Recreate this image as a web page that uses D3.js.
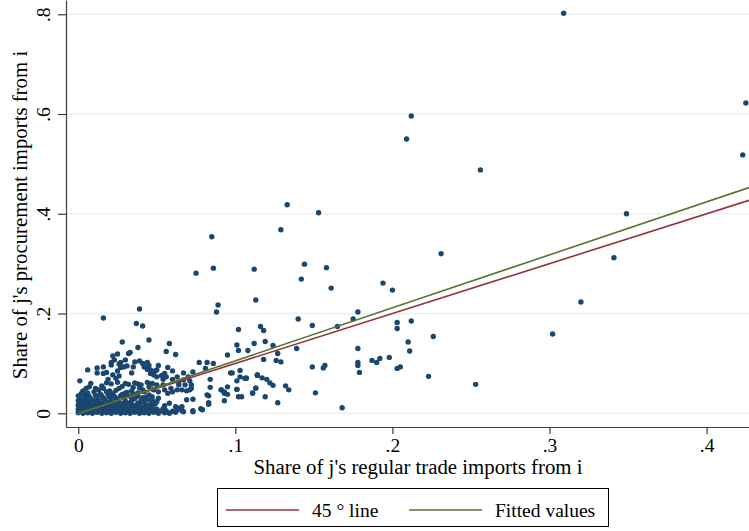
<!DOCTYPE html>
<html>
<head>
<meta charset="utf-8">
<script src="https://cdn.jsdelivr.net/npm/d3@7"></script>
<style>
    body { margin: 0; background: #fff; }
    svg { display: block; font-family: "Liberation Serif", "Times New Roman", serif; }
    .grid line { stroke: #eaf2f3; stroke-width: 1.4; }
    .axis path, .axis line { stroke: #3c3c3c; stroke-width: 1.2; }
    .axis text { font-size: 19.5px; fill: #000; font-family: "Liberation Serif", serif; }
</style>
</head>
<body>
<div id="chart"></div>
<script>
// share of j's regular trade imports from i (x) vs share of procurement imports from i (y)
const outliers = [
    [0.309, 0.802], [0.425, 0.622], [0.212, 0.596], [0.209, 0.550], [0.256, 0.488],
    [0.423, 0.518], [0.133, 0.418], [0.153, 0.402], [0.349, 0.400], [0.341, 0.312],
    [0.231, 0.320], [0.129, 0.368], [0.085, 0.354], [0.320, 0.223], [0.302, 0.159],
    [0.253, 0.058]
]

const midPoints = [
    [0.144, 0.299], [0.158, 0.292], [0.112, 0.289], [0.142, 0.269], [0.161, 0.251],
    [0.194, 0.261], [0.200, 0.247], [0.113, 0.227], [0.178, 0.203], [0.175, 0.189],
    [0.140, 0.189], [0.203, 0.182], [0.212, 0.185], [0.203, 0.170], [0.116, 0.174],
    [0.118, 0.166], [0.149, 0.176], [0.165, 0.174], [0.226, 0.154], [0.112, 0.140],
    [0.119, 0.144], [0.124, 0.136], [0.210, 0.143], [0.211, 0.125], [0.139, 0.130],
    [0.178, 0.130], [0.127, 0.120], [0.118, 0.108], [0.126, 0.106], [0.129, 0.103],
    [0.178, 0.102], [0.178, 0.096], [0.187, 0.106], [0.190, 0.102], [0.192, 0.110],
    [0.198, 0.112], [0.149, 0.093], [0.157, 0.096], [0.156, 0.091], [0.203, 0.090],
    [0.205, 0.093], [0.179, 0.082], [0.114, 0.076], [0.117, 0.071], [0.120, 0.068],
    [0.122, 0.061], [0.124, 0.056], [0.223, 0.074], [0.113, 0.051], [0.132, 0.055],
    [0.134, 0.047], [0.111, 0.041], [0.151, 0.041], [0.119, 0.033], [0.127, 0.021],
    [0.168, 0.011], [0.075, 0.281], [0.086, 0.291], [0.089, 0.217], [0.088, 0.203],
    [0.039, 0.209], [0.016, 0.191], [0.037, 0.180], [0.041, 0.175], [0.102, 0.168],
    [0.045, 0.147], [0.028, 0.143], [0.058, 0.140], [0.056, 0.124], [0.038, 0.132],
    [0.033, 0.122], [0.102, 0.126], [0.108, 0.126], [0.101, 0.137], [0.095, 0.117],
    [0.025, 0.119], [0.032, 0.120], [0.062, 0.118], [0.022, 0.115], [0.023, 0.107]
]

const lowPoints = [
    [0.021, 0.102], [0.027, 0.102], [0.030, 0.107], [0.029, 0.093], [0.035, 0.093],
    [0.039, 0.105], [0.041, 0.100], [0.044, 0.102], [0.045, 0.096], [0.051, 0.096],
    [0.042, 0.093], [0.049, 0.085], [0.060, 0.085], [0.067, 0.081], [0.073, 0.083],
    [0.077, 0.102], [0.081, 0.090], [0.082, 0.102], [0.086, 0.100], [0.084, 0.068],
    [0.084, 0.052], [0.091, 0.047], [0.093, 0.043], [0.095, 0.038], [0.101, 0.065],
    [0.101, 0.048], [0.103, 0.086], [0.107, 0.071], [0.114, 0.077], [0.083, 0.035],
    [0.083, 0.018], [0.078, 0.009], [0.073, 0.005], [0.066, 0.005], [0.001, 0.065],
    [0.006, 0.087], [0.012, 0.091], [0.016, 0.093], [0.012, 0.081], [0.018, 0.082],
    [0.016, 0.080], [0.021, 0.097], [0.026, 0.099], [0.027, 0.092], [0.025, 0.085],
    [0.026, 0.075], [0.036, 0.103], [0.044, 0.088], [0.046, 0.080], [0.048, 0.077],
    [0.031, 0.095], [0.034, 0.081], [0.022, 0.077], [0.024, 0.070], [0.019, 0.068],
    [0.018, 0.061], [0.021, 0.059], [0.025, 0.062], [0.030, 0.060], [0.032, 0.058],
    [0.036, 0.061], [0.038, 0.059], [0.040, 0.057], [0.044, 0.062], [0.047, 0.059],
    [0.008, 0.060], [0.007, 0.053], [0.005, 0.050], [0.013, 0.047], [0.016, 0.050],
    [0.010, 0.043], [0.038, 0.041], [0.042, 0.043], [0.045, 0.037], [0.048, 0.047],
    [0.020, 0.045], [0.026, 0.050], [0.031, 0.042], [0.035, 0.052], [0.028, 0.038],
    [0.034, 0.045], [0.057, 0.092], [0.050, 0.087], [0.046, 0.087], [0.055, 0.080],
    [0.056, 0.073], [0.053, 0.076], [0.050, 0.073], [0.060, 0.068], [0.063, 0.073],
    [0.067, 0.067], [0.070, 0.073], [0.071, 0.065], [0.064, 0.057], [0.064, 0.062],
    [0.068, 0.057], [0.069, 0.045], [0.071, 0.047], [0.072, 0.050], [0.072, 0.057],
    [0.051, 0.030], [0.050, 0.023], [0.047, 0.013], [0.050, 0.008], [0.055, 0.015],
    [0.058, 0.020], [0.062, 0.013], [0.064, 0.010], [0.066, 0.013], [0.069, 0.027],
    [0.073, 0.028], [0.079, 0.007], [0.073, 0.003], [0.067, 0.003], [0.063, 0.007],
    [0.082, 0.037], [0.083, 0.021], [0.091, 0.047], [0.093, 0.040], [0.095, 0.053],
    [0.093, 0.025], [0.101, 0.048], [0.102, 0.033], [0.104, 0.033], [0.107, 0.070],
    [0.111, 0.040], [0.113, 0.050], [0.114, 0.077], [0.097, 0.081], [0.098, 0.081],
    [0.103, 0.073], [0.106, 0.070], [0.054, 0.068], [0.054, 0.057], [0.055, 0.047],
    [0.057, 0.040], [0.059, 0.050], [0.050, 0.057], [0.047, 0.060], [0.048, 0.048],
    [0.051, 0.043], [0.063, 0.047], [0.066, 0.047], [0.060, 0.043]
]

const denseCluster = [
    [0.000, 0.001], [0.003, 0.000], [0.006, 0.001], [0.009, 0.000], [0.012, 0.002],
    [0.015, 0.000], [0.018, 0.001], [0.021, 0.000], [0.024, 0.002], [0.027, 0.000],
    [0.030, 0.001], [0.033, 0.000], [0.036, 0.002], [0.039, 0.000], [0.042, 0.001],
    [0.045, 0.000], [0.048, 0.002], [0.051, 0.000], [0.055, 0.001], [0.058, 0.000],
    [0.062, 0.002], [0.001, 0.004], [0.004, 0.005], [0.007, 0.004], [0.011, 0.006],
    [0.014, 0.004], [0.017, 0.005], [0.020, 0.004], [0.023, 0.006], [0.026, 0.004],
    [0.029, 0.005], [0.032, 0.004], [0.035, 0.006], [0.038, 0.004], [0.041, 0.005],
    [0.044, 0.004], [0.047, 0.006], [0.052, 0.004], [0.056, 0.005], [0.060, 0.004],
    [0.000, 0.008], [0.003, 0.009], [0.006, 0.008], [0.009, 0.010], [0.013, 0.008],
    [0.016, 0.009], [0.019, 0.008], [0.022, 0.010], [0.025, 0.008], [0.028, 0.009],
    [0.031, 0.008], [0.034, 0.010], [0.037, 0.008], [0.040, 0.009], [0.043, 0.008],
    [0.046, 0.010], [0.049, 0.008], [0.054, 0.009], [0.001, 0.012], [0.004, 0.013],
    [0.008, 0.012], [0.011, 0.014], [0.014, 0.012], [0.018, 0.013], [0.021, 0.012],
    [0.024, 0.014], [0.027, 0.012], [0.030, 0.013], [0.034, 0.012], [0.037, 0.014],
    [0.041, 0.012], [0.044, 0.013], [0.000, 0.016], [0.003, 0.017], [0.006, 0.016],
    [0.010, 0.018], [0.013, 0.016], [0.016, 0.017], [0.020, 0.016], [0.023, 0.018],
    [0.027, 0.016], [0.031, 0.017], [0.035, 0.016], [0.039, 0.018], [0.043, 0.016],
    [0.046, 0.018], [0.001, 0.020], [0.004, 0.021], [0.007, 0.020], [0.011, 0.022],
    [0.015, 0.020], [0.019, 0.021], [0.022, 0.020], [0.026, 0.022], [0.029, 0.020],
    [0.033, 0.021], [0.038, 0.020], [0.042, 0.022], [0.000, 0.025], [0.003, 0.026],
    [0.006, 0.024], [0.009, 0.026], [0.013, 0.025], [0.017, 0.027], [0.021, 0.025],
    [0.025, 0.026], [0.030, 0.024], [0.034, 0.026], [0.040, 0.025], [0.044, 0.027],
    [0.001, 0.030], [0.005, 0.031], [0.008, 0.029], [0.012, 0.031], [0.016, 0.030],
    [0.020, 0.032], [0.024, 0.030], [0.029, 0.031], [0.036, 0.029], [0.041, 0.031],
    [0.000, 0.035], [0.004, 0.036], [0.007, 0.034], [0.011, 0.036], [0.015, 0.035],
    [0.019, 0.037], [0.027, 0.035], [0.033, 0.034], [0.002, 0.040], [0.006, 0.041],
    [0.014, 0.039], [0.022, 0.040], [0.030, 0.041], [0.023, 0.034], [0.031, 0.036],
    [0.038, 0.034], [0.043, 0.032], [0.047, 0.027], [0.049, 0.019], [0.047, 0.033],
    [0.018, 0.043], [0.024, 0.046], [0.035, 0.039], [0.041, 0.047], [0.003, 0.045],
    [0.011, 0.050], [0.015, 0.055], [0.028, 0.054], [0.039, 0.051], [0.045, 0.053]
]

// straight lines: 45 degree line and OLS fit
const xExtent = [0, 0.427]
const fitIntercept = -0.001
const fitSlope = 1.062

const xTicks = [0, 0.1, 0.2, 0.3, 0.4]
const yTicks = [0, 0.2, 0.4, 0.6, 0.8]

const width = 749, height = 531
const plot = { left: 66, right: 749, top: 0, bottom: 427 }

const x = d3.scaleLinear().domain([-0.0078, 0.427]).range([plot.left, plot.right])
const y = d3.scaleLinear().domain([-0.0275, 0.8286]).range([plot.bottom, plot.top])

const svg = d3.select('#chart').append('svg')
    .attr('width', width)
    .attr('height', height)

svg.append('rect').attr('width', width).attr('height', height).attr('fill', '#fff')

svg.append('g').attr('class', 'grid')
    .selectAll('line')
    .data(yTicks)
    .join('line')
    .attr('x1', plot.left)
    .attr('x2', plot.right)
    .attr('y1', d => y(d))
    .attr('y2', d => y(d))

const fmt = d => d === 0 ? '0' : d3.format('.1f')(d).replace(/^0/, '')

const allPoints = denseCluster.concat(lowPoints, midPoints, outliers)

svg.append('g').attr('class', 'points')
    .selectAll('circle')
    .data(allPoints)
    .join('circle')
    .attr('cx', d => x(d[0]))
    .attr('cy', d => y(d[1]))
    .attr('r', 2.7)
    .attr('fill', '#1a476f')

const line = d3.line().x(d => x(d[0])).y(d => y(d[1]))

svg.append('path')
    .attr('d', line(xExtent.map(v => [v, v])))
    .attr('stroke', '#90353b')
    .attr('stroke-width', 1.6)
    .attr('fill', 'none')

svg.append('path')
    .attr('d', line(xExtent.map(v => [v, fitIntercept + fitSlope * v])))
    .attr('stroke', '#55752f')
    .attr('stroke-width', 1.6)
    .attr('fill', 'none')

const xAxis = svg.append('g').attr('class', 'axis')
    .attr('transform', `translate(0,${plot.bottom})`)
    .call(d3.axisBottom(x).tickValues(xTicks).tickFormat(fmt).tickSize(7).tickSizeOuter(0).tickPadding(4))

const yAxis = svg.append('g').attr('class', 'axis')
    .attr('transform', `translate(${plot.left},0)`)
    .call(d3.axisLeft(y).tickValues(yTicks).tickFormat(fmt).tickSize(8).tickSizeOuter(0))

yAxis.selectAll('.tick text')
    .attr('x', 0)
    .attr('dy', null)
    .attr('text-anchor', 'middle')
    .attr('transform', 'translate(-16,0) rotate(-90)')

svg.append('text')
    .attr('x', 418)
    .attr('y', 474)
    .attr('text-anchor', 'middle')
    .style('font-size', '20.8px')
    .text("Share of j's regular trade imports from i")

svg.append('text')
    .attr('transform', 'translate(27,215) rotate(-90)')
    .attr('text-anchor', 'middle')
    .style('font-size', '20.8px')
    .text("Share of j's procurement imports from i")

// legend
const legend = svg.append('g').attr('class', 'legend')
legend.append('rect')
    .attr('x', 217.5).attr('y', 488.5)
    .attr('width', 391).attr('height', 38)
    .attr('fill', '#fff').attr('stroke', '#000').attr('stroke-width', 1)

const legendItems = [
    { label: '45 ° line', color: '#90353b', x0: 226 },
    { label: 'Fitted values', color: '#55752f', x0: 409 }
]

legendItems.forEach(d => {
    legend.append('line')
        .attr('x1', d.x0).attr('x2', d.x0 + 73)
        .attr('y1', 510).attr('y2', 510)
        .attr('stroke', d.color).attr('stroke-width', 1.6)
    legend.append('text')
        .attr('x', d.x0 + 86).attr('y', 517)
        .style('font-size', '19.5px')
        .text(d.label)
})
</script>
</body>
</html>
